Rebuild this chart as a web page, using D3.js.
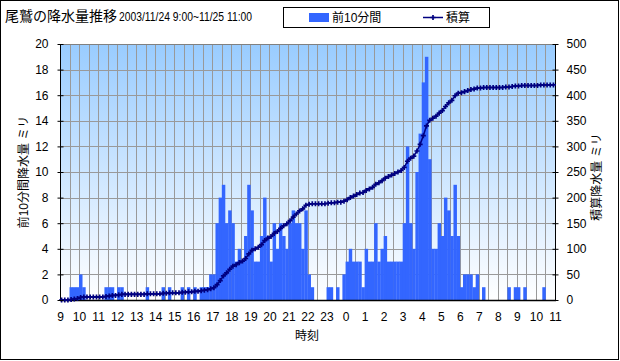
<!DOCTYPE html>
<html lang="ja">
<head>
<meta charset="UTF-8">
<title>尾鷲の降水量推移</title>
<script src="https://d3js.org/d3.v7.min.js"></script>
<style>
  body { margin: 0; background: #fff; }
  svg { display: block; font-family: "Liberation Sans", Arial, "Noto Sans CJK JP", sans-serif; }
</style>
</head>
<body>
<svg width="620" height="361"></svg>
<script>
// 10分ごとの降水量 (9:00 - 翌11:00, 156本)
const rain10 = [
  0,0,0,1,1,1,2,1,0,0,0,0, 0,0,1,1,1,0,1,1,0,0,0,0,
  0,0,0,1,0,0,0,0,1,0,1,0, 0,0,1,0,1,0,1,0,1,1,1,2,
  2,6,8,9,6,7,6,3,4,3,5,9, 7,3,3,5,8,5,3,6,4,6,5,4,
  6,7,6,6,4,7,2,1,0,0,0,0, 1,1,0,1,0,2,3,4,3,3,3,1,
  4,3,3,6,3,4,5,3,3,3,3,3, 6,12,6,4,10,13,17,19,11,4,4,6,
  5,8,7,5,9,5,1,2,2,2,1,2, 0,1,0,0,0,0,0,0,0,1,0,1,
  1,0,1,0,0,0,0,0,1,0,0,0
];
// 積算
const rainTotal = [
  0,0,0,1,2,3,5,6,6,6,6,6, 6,6,7,8,9,9,10,11,11,11,11,11,
  11,11,11,12,12,12,12,12,13,13,14,14, 14,14,15,15,16,16,17,17,18,19,20,22,
  24,30,38,47,53,60,66,69,73,76,81,90, 97,100,103,108,116,121,124,130,134,140,145,149,
  155,162,168,174,178,185,187,188,188,188,188,188, 189,190,190,191,191,193,196,200,203,206,209,210,
  214,217,220,226,229,233,238,241,244,247,250,253, 259,271,277,281,291,304,321,340,351,355,359,365,
  370,378,385,390,399,404,405,407,409,411,412,414, 414,415,415,415,415,415,415,415,416,416,417,418,
  418,419,419,419,419,419,419,420,420,420,420,420
];
const hourLabels = ["9","10","11","12","13","14","15","16","17","18","19","20","21","22","23",
                    "0","1","2","3","4","5","6","7","8","9","10","11"];
const leftTicks = [0,2,4,6,8,10,12,14,16,18,20];
const rightTicks = [0,50,100,150,200,250,300,350,400,450,500];

const svg = d3.select("svg");
const L = 60, R = 555, T = 44, B = 300;

const xBand = d3.scaleBand().domain(d3.range(rain10.length)).range([L, R]).paddingInner(0).paddingOuter(0);
const xHour = d3.scaleLinear().domain([0, hourLabels.length - 1]).range([L, R]);
const yL = d3.scaleLinear().domain([0, 20]).range([B, T]);
const yR = d3.scaleLinear().domain([0, 500]).range([B, T]);

// 外枠
svg.append("rect").attr("x", 0.5).attr("y", 0.5).attr("width", 618).attr("height", 359)
  .attr("fill", "#fff").attr("stroke", "#000");

// 背景グラデーション
const grad = svg.append("defs").append("linearGradient").attr("id", "bg")
  .attr("x1", 0).attr("y1", 0).attr("x2", 0).attr("y2", 1);
grad.append("stop").attr("offset", "0%").attr("stop-color", "#99CCFF");
grad.append("stop").attr("offset", "100%").attr("stop-color", "#FFFFFF");
svg.append("rect").attr("x", L).attr("y", T).attr("width", R - L).attr("height", B - T)
  .attr("fill", "url(#bg)");

// グリッド
svg.append("g").selectAll("line").data(leftTicks.slice(1)).enter().append("line")
  .attr("x1", L).attr("x2", R)
  .attr("y1", d => Math.round(yL(d)) + 0.5).attr("y2", d => Math.round(yL(d)) + 0.5)
  .attr("stroke", "#999");
svg.append("g").selectAll("line").data(d3.range(1, (hourLabels.length - 1) * 2)).enter().append("line")
  .attr("x1", d => Math.round(xHour(d / 2)) + 0.5).attr("x2", d => Math.round(xHour(d / 2)) + 0.5)
  .attr("y1", T).attr("y2", B)
  .attr("stroke", "#999");

// 棒
svg.append("g").selectAll("rect").data(rain10).enter().append("rect")
  .attr("x", (d, i) => xBand(i))
  .attr("width", xBand.bandwidth() + 0.3)
  .attr("y", d => yL(d))
  .attr("height", d => B - yL(d))
  .attr("fill", "#3366FF");

// 枠・軸線
svg.append("line").attr("x1", L).attr("x2", R).attr("y1", T + 0.5).attr("y2", T + 0.5).attr("stroke", "#808080");
svg.append("line").attr("x1", L + 0.5).attr("x2", L + 0.5).attr("y1", T).attr("y2", B).attr("stroke", "#000");
svg.append("line").attr("x1", R + 0.5).attr("x2", R + 0.5).attr("y1", T).attr("y2", B).attr("stroke", "#000");
svg.append("line").attr("x1", L).attr("x2", R + 1).attr("y1", B + 0.5).attr("y2", B + 0.5).attr("stroke", "#000").attr("stroke-width", 1.5);

// 積算ライン
const cx = i => xBand(i) + xBand.bandwidth() / 2;
svg.append("path").datum(rainTotal)
  .attr("fill", "none").attr("stroke", "#000080").attr("stroke-width", 1.5)
  .attr("d", d3.line().x((d, i) => cx(i)).y(d => yR(d)));
svg.append("g").selectAll("path").data(rainTotal).enter().append("path")
  .attr("transform", (d, i) => `translate(${cx(i)},${yR(d)})`)
  .attr("d", d3.symbol().type(d3.symbolCross).size(14))
  .attr("fill", "#000080");

// 左軸
const axL = svg.append("g").attr("transform", `translate(${L + 0.5},0)`)
  .call(d3.axisLeft(yL).tickValues(leftTicks).tickSize(3).tickPadding(9));
axL.select(".domain").remove();
axL.selectAll(".tick line").attr("x2", 3).attr("x1", -3).attr("stroke", "#000");
axL.selectAll("text").attr("font-size", 12).attr("fill", "#000").attr("font-family", null);

// 右軸
const axR = svg.append("g").attr("transform", `translate(${R + 0.5},0)`)
  .call(d3.axisRight(yR).tickValues(rightTicks).tickSize(3).tickPadding(8));
axR.select(".domain").remove();
axR.selectAll(".tick line").attr("x1", -3).attr("x2", 3).attr("stroke", "#000");
axR.selectAll("text").attr("font-size", 12).attr("fill", "#000").attr("font-family", null);

// 時刻軸
const axB = svg.append("g").attr("transform", `translate(0,${B})`)
  .call(d3.axisBottom(xHour).tickValues(d3.range(hourLabels.length)).tickFormat(i => hourLabels[i]).tickSize(0).tickPadding(12));
axB.select(".domain").remove();
axB.selectAll("text").attr("font-size", 12).attr("fill", "#000").attr("font-family", null);

// 軸タイトル
svg.append("text").attr("x", 307).attr("y", 340).attr("text-anchor", "middle")
  .attr("font-size", 12).text("時刻");
svg.append("text").attr("transform", "translate(28,172) rotate(-90)").attr("text-anchor", "middle")
  .attr("font-size", 12).text("前10分間降水量 ミリ");
svg.append("text").attr("transform", "translate(601,177) rotate(-90)").attr("text-anchor", "middle")
  .attr("font-size", 12).text("積算降水量 ミリ");

// タイトル
svg.append("text").attr("x", 5).attr("y", 21).attr("font-size", 14).text("尾鷲の降水量推移");
svg.append("text").attr("x", 119).attr("y", 21).attr("font-size", 12)
  .attr("textLength", 133).attr("lengthAdjust", "spacingAndGlyphs")
  .text("2003/11/24 9:00~11/25 11:00");

// 凡例
const lg = svg.append("g");
lg.append("rect").attr("x", 283.5).attr("y", 7.5).attr("width", 206).attr("height", 20)
  .attr("fill", "#fff").attr("stroke", "#000");
lg.append("rect").attr("x", 309).attr("y", 13).attr("width", 20).attr("height", 9).attr("fill", "#3366FF");
lg.append("text").attr("x", 332).attr("y", 22).attr("font-size", 12).text("前10分間");
lg.append("line").attr("x1", 423).attr("x2", 443).attr("y1", 17.5).attr("y2", 17.5)
  .attr("stroke", "#000080").attr("stroke-width", 1.5);
lg.append("path").attr("transform", "translate(433,17.5)")
  .attr("d", d3.symbol().type(d3.symbolCross).size(14)).attr("fill", "#000080");
lg.append("text").attr("x", 446).attr("y", 22).attr("font-size", 12).text("積算");
</script>
</body>
</html>
